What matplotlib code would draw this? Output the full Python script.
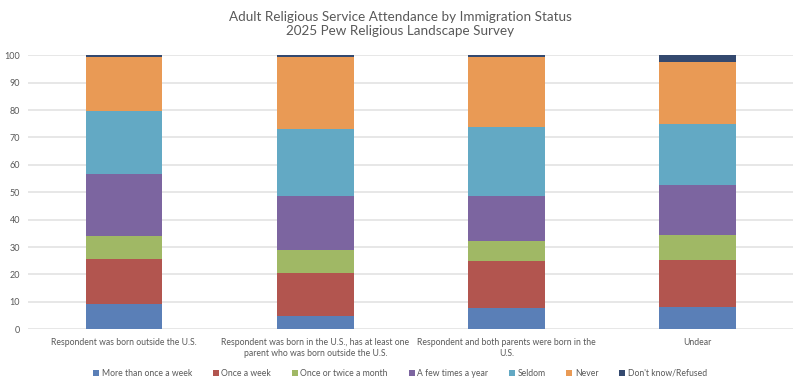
import matplotlib.pyplot as plt
import numpy as np

categories = [
    "Respondent was born outside the U.S.",
    "Respondent was born in the U.S., has at least one\nparent who was born outside the U.S.",
    "Respondent and both parents were born in the\nU.S.",
    "Undear",
]
series = ["More than once a week", "Once a week", "Once or twice a month",
          "A few times a year", "Seldom", "Never", "Don't know/Refused"]
more_than_weekly = [9.3, 5.0, 7.8, 8.0]
once_week = [16.2, 15.5, 17.0, 17.2]
monthly = [8.5, 8.4, 7.5, 9.1]
few_times_year = [22.6, 19.6, 16.5, 18.5]
seldom = [23.1, 24.5, 24.9, 22.2]
never = [19.6, 26.3, 25.6, 22.4]
dont_know = [0.7, 0.7, 0.7, 2.6]
colors = ["#5a7fb7", "#b2554f", "#a0b865", "#7c65a0", "#63a9c4", "#e99a55", "#34496f"]

plt.rcParams['font.family'] = ['Lato', 'DejaVu Sans']
grey = "#595959"

fig = plt.figure(figsize=(8, 3.85), dpi=100)
ax = fig.add_axes([0.0356, 0.1447, 0.956, 0.7117])

x = np.arange(len(categories))
bottom = np.zeros(len(categories))
for name, vals, c in zip(series, [more_than_weekly, once_week, monthly, few_times_year,
                                  seldom, never, dont_know], colors):
    ax.bar(x, vals, 0.4, bottom=bottom, color=c, label=name, edgecolor="none", zorder=3)
    bottom += np.array(vals)

ax.set_xlim(-0.5, len(categories) - 0.5)
ax.set_ylim(0, 100)
ax.set_yticks(range(0, 101, 10))
ax.grid(axis="y", color="#e3e3e3", linewidth=1.2, zorder=0)
for s in ax.spines.values():
    s.set_visible(False)
ax.tick_params(axis="both", length=0, colors=grey, labelsize=6.5)
ax.tick_params(axis="y", pad=6)
ax.tick_params(axis="x", pad=6)
ax.set_xticks(x)
ax.set_xticklabels(categories, fontsize=6.2, color=grey, linespacing=1.3)

fig.text(0.5, 0.937, "Adult Religious Service Attendance by Immigration Status\n2025 Pew Religious Landscape Survey",
         ha="center", va="center", fontsize=9.7, color=grey, linespacing=1.2)

handles, labels = ax.get_legend_handles_labels()
fig.legend(handles, labels, loc="center", bbox_to_anchor=(0.5, 0.031), ncol=7, frameon=False,
           fontsize=6.2, handlelength=0.7, handleheight=0.7, handletextpad=0.3,
           columnspacing=2.4, labelcolor=grey)

fig.savefig("out.png", dpi=100)
